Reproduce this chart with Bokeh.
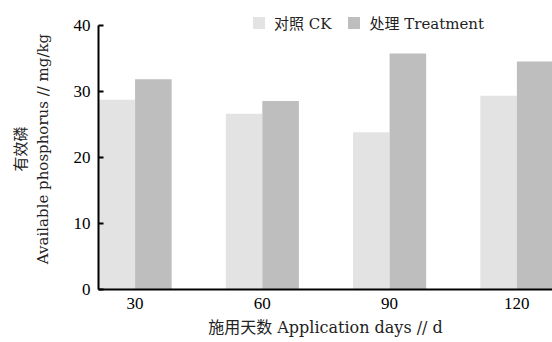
from bokeh.plotting import figure
from bokeh.models import Range1d, FixedTicker, Legend, LegendItem, ColumnDataSource
from bokeh.embed import file_html
from bokeh.resources import INLINE

days = [30, 60, 90, 120]
ck_values = [28.7, 26.6, 23.8, 29.3]
treat_values = [31.8, 28.5, 35.7, 34.5]
y_ticks = [0, 10, 20, 30, 40]
ck_label = "对照 CK"
treat_label = "处理 Treatment"
x_title = "施用天数 Application days // d"
y_title = "有效磷\nAvailable phosphorus // mg/kg"

bar_w = 8.62
label_font = "'DejaVu Serif', 'Noto Sans CJK SC'"
tick_font = "'Liberation Serif'"

p = figure(width=552, height=342, output_backend="svg", toolbar_location=None,
           x_range=Range1d(30 - bar_w, 128.4), y_range=Range1d(0, 42.5),
           min_border_left=98, min_border_right=0, min_border_top=8, min_border_bottom=53)

src_ck = ColumnDataSource(dict(x=[d - bar_w / 2 for d in days], top=ck_values))
src_t = ColumnDataSource(dict(x=[d + bar_w / 2 for d in days], top=treat_values))
r_ck = p.vbar(x="x", top="top", width=bar_w, source=src_ck, fill_color="#e3e3e3", line_color=None)
r_t = p.vbar(x="x", top="top", width=bar_w, source=src_t, fill_color="#bebebe", line_color=None)

p.outline_line_color = None
p.grid.visible = False
p.background_fill_color = "white"
p.border_fill_color = "white"

xa = p.xaxis[0]
xa.ticker = FixedTicker(ticks=days)
xa.major_tick_line_color = None
xa.minor_tick_line_color = None
xa.axis_line_color = "black"
xa.axis_line_width = 2
xa.major_label_text_font = tick_font
xa.major_label_text_font_size = "17px"
xa.major_label_text_color = "black"
xa.major_label_standoff = 2
xa.axis_label = x_title
xa.axis_label_text_font = label_font
xa.axis_label_text_font_size = "16px"
xa.axis_label_text_font_style = "normal"
xa.axis_label_text_color = "#222222"
xa.axis_label_standoff = 6

ya = p.yaxis[0]
ya.ticker = FixedTicker(ticks=y_ticks)
ya.bounds = (0, 40)
ya.minor_tick_line_color = None
ya.major_tick_in = 5
ya.major_tick_out = 0
ya.major_tick_line_width = 2
ya.axis_line_color = "black"
ya.axis_line_width = 2
ya.major_label_text_font = tick_font
ya.major_label_text_font_size = "17px"
ya.major_label_text_color = "black"
ya.major_label_standoff = 8
ya.axis_label = y_title
ya.axis_label_text_font = label_font
ya.axis_label_text_font_size = "15px"
ya.axis_label_text_font_style = "normal"
ya.axis_label_text_color = "#222222"
ya.axis_label_standoff = 19
ya.axis_label_text_line_height = 1.2

legend = Legend(items=[LegendItem(label=ck_label, renderers=[r_ck]),
                       LegendItem(label=treat_label, renderers=[r_t])],
                orientation="horizontal", location=(153, 256),
                glyph_width=15, glyph_height=15, label_standoff=8, spacing=15,
                padding=0, margin=0, border_line_color=None, background_fill_alpha=0,
                label_text_font=label_font, label_text_font_size="15px",
                label_text_color="#222222", label_height=15)
p.add_layout(legend, "center")

open("out.html", "w").write(file_html(p, INLINE))
